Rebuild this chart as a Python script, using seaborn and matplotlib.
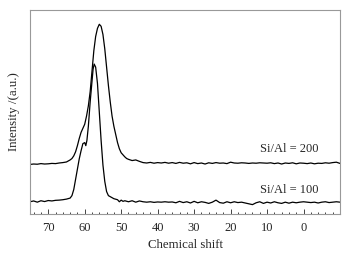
import matplotlib
matplotlib.use("Agg")
import matplotlib.pyplot as plt
import seaborn as sns
import pandas as pd
from matplotlib.ticker import MultipleLocator

sns.set_style("white")
plt.rcParams['font.family'] = ['Liberation Serif', 'DejaVu Serif']

shift_200 = [75, 74, 73, 72, 71, 70, 69, 68, 67, 66, 65, 64.5, 64, 63.5, 63, 62.5, 62, 61.5, 61, 60.5,
             60, 59.5, 59, 58.5, 58, 57.5, 57, 56.5, 56, 55.5, 55, 54.5, 54, 53.5, 53, 52.5, 52, 51.5,
             51, 50.5, 50, 49.5, 49, 48.5, 48, 47, 46, 45, 44, 43, 42, 41, 40, 39, 38, 37, 36, 35, 34,
             33, 32, 31, 30, 29, 28, 27, 26, 25, 24, 23, 22, 21, 20, 19, 18, 17, 16, 15, 14, 13, 12,
             11, 10, 9, 8, 7, 6, 5, 4, 3, 2, 1, 0, -1, -2, -3, -4, -5, -6, -7, -8, -9, -10]
int_200 = [0.243, 0.245, 0.244, 0.247, 0.245, 0.246, 0.248, 0.247, 0.250, 0.252, 0.255, 0.260, 0.265,
           0.272, 0.285, 0.305, 0.335, 0.370, 0.400, 0.420, 0.440, 0.480, 0.530, 0.600, 0.700, 0.800,
           0.870, 0.910, 0.930, 0.920, 0.880, 0.810, 0.720, 0.630, 0.550, 0.480, 0.430, 0.390, 0.350,
           0.320, 0.300, 0.290, 0.280, 0.272, 0.268, 0.262, 0.265, 0.258, 0.252, 0.250, 0.253, 0.249,
           0.252, 0.250, 0.253, 0.249, 0.252, 0.248, 0.253, 0.249, 0.251, 0.246, 0.252, 0.247, 0.250,
           0.245, 0.251, 0.248, 0.252, 0.249, 0.250, 0.247, 0.254, 0.250, 0.249, 0.251, 0.250, 0.248,
           0.250, 0.249, 0.251, 0.250, 0.249, 0.251, 0.247, 0.250, 0.245, 0.250, 0.248, 0.251, 0.246,
           0.250, 0.249, 0.247, 0.250, 0.246, 0.249, 0.248, 0.251, 0.249, 0.252, 0.254, 0.248]

shift_100 = [75, 74, 73, 72, 71, 70, 69, 68, 67, 66, 65, 64, 63.5, 63, 62.5, 62, 61.5, 61, 60.5, 60,
             59.7, 59.4, 59, 58.5, 58, 57.7, 57.4, 57, 56.5, 56, 55.5, 55, 54.5, 54, 53.5, 53, 52, 51,
             50.5, 50, 49.5, 49, 48, 47, 46, 45, 44, 43, 42, 41, 40, 39, 38, 37, 36, 35, 34, 33, 32,
             31, 30, 29, 28, 27, 26, 25, 24, 23, 22, 21, 20, 19, 18, 17, 16, 15, 14, 13, 12, 11, 10,
             9, 8, 7, 6, 5, 4, 3, 2, 1, 0, -1, -2, -3, -4, -5, -6, -7, -8, -9, -10]
int_100 = [0.060, 0.064, 0.058, 0.065, 0.061, 0.066, 0.064, 0.067, 0.068, 0.070, 0.073, 0.078, 0.090,
           0.120, 0.170, 0.220, 0.270, 0.310, 0.345, 0.350, 0.335, 0.360, 0.430, 0.550, 0.650, 0.710,
           0.735, 0.720, 0.640, 0.500, 0.360, 0.240, 0.160, 0.110, 0.090, 0.085, 0.075, 0.070, 0.060,
           0.068, 0.062, 0.065, 0.060, 0.065, 0.058, 0.064, 0.060, 0.058, 0.060, 0.057, 0.059, 0.058,
           0.060, 0.058, 0.059, 0.055, 0.062, 0.056, 0.060, 0.054, 0.062, 0.055, 0.060, 0.057, 0.052,
           0.058, 0.068, 0.056, 0.053, 0.060, 0.055, 0.060, 0.056, 0.058, 0.054, 0.050, 0.046, 0.055,
           0.060, 0.052, 0.058, 0.054, 0.060, 0.055, 0.052, 0.058, 0.053, 0.058, 0.055, 0.058, 0.060,
           0.058, 0.056, 0.058, 0.054, 0.058, 0.060, 0.056, 0.058, 0.060, 0.058]

labels = ["Si/Al = 200", "Si/Al = 100"]
x_ticks = [70, 60, 50, 40, 30, 20, 10, 0]

df200 = pd.DataFrame({"shift": shift_200, "intensity": int_200})
df100 = pd.DataFrame({"shift": shift_100, "intensity": int_100})

fig = plt.figure(figsize=(3.48, 2.57), dpi=100)
ax = fig.add_axes([30/348, (257-214)/257, (340-30)/348, (214-10)/257])

sns.lineplot(data=df200, x="shift", y="intensity", ax=ax, color="black", lw=0.9)
sns.lineplot(data=df100, x="shift", y="intensity", ax=ax, color="black", lw=0.9)

ax.text(12, 0.32, labels[0], fontsize=9, va="center", ha="left")
ax.text(12, 0.12, labels[1], fontsize=9, va="center", ha="left")

ax.set_xlim(75, -10)
ax.set_ylim(0, 1)
ax.set_xticks(x_ticks)
ax.set_xticklabels([str(t) for t in x_ticks])
ax.xaxis.set_minor_locator(MultipleLocator(2))
ax.set_yticks([])
ax.tick_params(axis="x", which="major", direction="in", length=3.5, width=0.6,
               labelsize=9, pad=6, bottom=True, top=False)
ax.tick_params(axis="x", which="minor", direction="in", length=1.8, width=0.6,
               bottom=True, top=False)
ax.set_xlabel("Chemical shift", fontsize=9.3, labelpad=3)
ax.set_ylabel("Intensity /(a.u.)", fontsize=9.3, labelpad=7)
for s in ax.spines.values():
    s.set_color("#999999")
    s.set_linewidth(0.8)

fig.savefig("out.png", dpi=100)
